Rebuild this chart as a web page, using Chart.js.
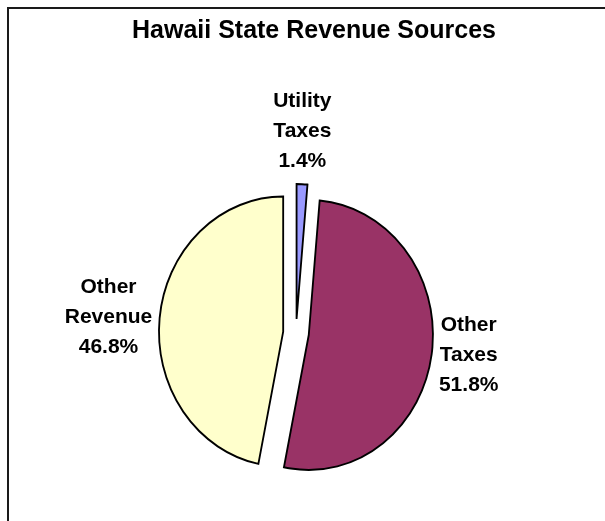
<!DOCTYPE html>
<html>
<head>
<meta charset="utf-8">
<script src="https://cdn.jsdelivr.net/npm/chart.js@4/dist/chart.umd.min.js"></script>
<style>
  body { margin: 0; background: #fff; }
  #wrap { position: relative; width: 605px; height: 521px; overflow: hidden; }
  #frame { position: absolute; left: 7px; top: 7px; width: 700px; height: 600px;
           border-left: 2px solid #1a1a1a; border-top: 2px solid #1a1a1a; }
  canvas { position: absolute; left: 0; top: 0; }
</style>
</head>
<body>
<div id="wrap">
  <div id="frame"></div>
  <canvas id="pie" width="605" height="521"></canvas>
</div>
<script>
const chartTitle = 'Hawaii State Revenue Sources';
const categories = ['Utility Taxes', 'Other Taxes', 'Other Revenue'];
const labelLines = [['Utility', 'Taxes'], ['Other', 'Taxes'], ['Other', 'Revenue']];
const shares = [1.4, 51.8, 46.8];

// excel pie is a bit squashed sideways
const squeeze = 0.92;
const explode = 14;
const labelFont = 'bold 21px "Liberation Sans", Arial, sans-serif';

const piePlugin = {
  id: 'piePlugin',
  afterUpdate(chart) {
    // pull every slice out along its middle angle (chart.js offset also trims the angles)
    chart.getDatasetMeta(0).data.forEach(arc => {
      if (arc._exploded) return;
      arc._exploded = true;
      const baseDraw = arc.draw;
      arc.draw = function (ctx, area) {
        const mid = (this.startAngle + this.endAngle) / 2;
        ctx.save();
        ctx.translate(Math.cos(mid) * explode, Math.sin(mid) * explode);
        baseDraw.call(this, ctx, area);
        ctx.restore();
      };
    });
  },
  beforeDatasetsDraw(chart) {
    const arc = chart.getDatasetMeta(0).data[0];
    const ctx = chart.ctx;
    ctx.save();
    ctx.translate(arc.x, arc.y);
    ctx.scale(squeeze, 1);
    ctx.translate(-arc.x, -arc.y);
  },
  afterDatasetsDraw(chart) {
    const ctx = chart.ctx;
    ctx.restore();

    ctx.save();
    ctx.fillStyle = '#000';
    ctx.textBaseline = 'middle';
    ctx.textAlign = 'center';
    ctx.font = 'bold 25px "Liberation Sans", Arial, sans-serif';
    ctx.fillText(chartTitle, 314, 31);

    ctx.font = labelFont;
    const lineH = 30;
    const gap = 8;
    chart.getDatasetMeta(0).data.forEach((arc, i) => {
      const p = arc.getProps(['x', 'y', 'startAngle', 'endAngle', 'outerRadius'], true);
      const mid = (p.startAngle + p.endAngle) / 2;
      const dist = p.outerRadius + explode + gap;
      const ax = p.x + Math.cos(mid) * dist * squeeze;
      const ay = p.y + Math.sin(mid) * dist;
      const lines = labelLines[i].concat([shares[i].toFixed(1) + '%']);
      const w = Math.max(...lines.map(t => ctx.measureText(t).width));
      const h = lines.length * lineH;
      const dx = Math.cos(mid), dy = Math.sin(mid);
      let cx, top;
      if (Math.abs(dx) > Math.abs(dy)) {
        cx = dx > 0 ? ax + w / 2 : ax - w / 2;
        top = ay - h / 2;
      } else {
        cx = ax;
        top = dy < 0 ? ay - h : ay;
      }
      lines.forEach((t, k) => ctx.fillText(t, cx, top + lineH * (k + 0.5)));
    });
    ctx.restore();
  }
};

new Chart(document.getElementById('pie'), {
  type: 'pie',
  data: {
    labels: categories,
    datasets: [{
      data: shares,
      backgroundColor: ['#9999ff', '#993366', '#ffffcc'],
      borderColor: '#000',
      borderWidth: 2,
      borderJoinStyle: 'miter'
    }]
  },
  options: {
    responsive: false,
    animation: false,
    events: [],
    radius: 135,
    layout: { padding: { left: 100, right: 113, top: 170, bottom: 25 } },
    plugins: {
      legend: { display: false },
      title: { display: false },
      tooltip: { enabled: false }
    }
  },
  plugins: [piePlugin]
});
</script>
</body>
</html>
